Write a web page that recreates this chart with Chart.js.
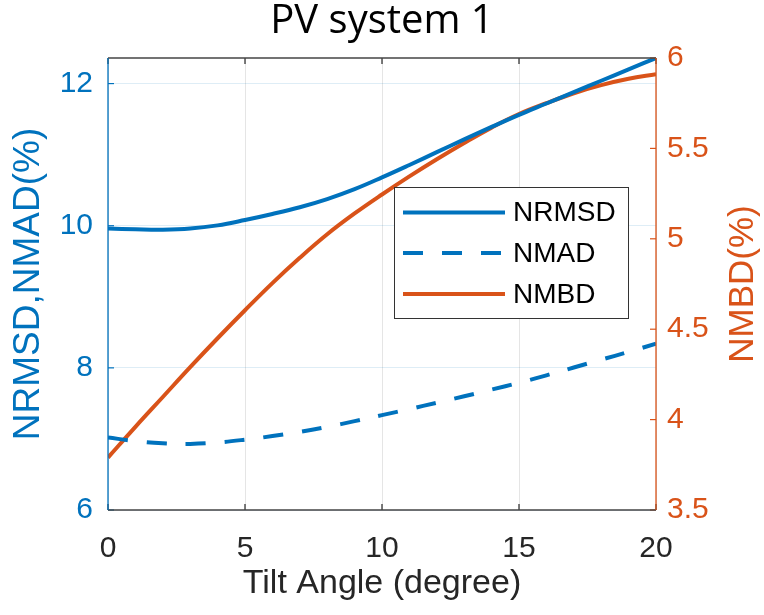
<!DOCTYPE html>
<html><head><meta charset="utf-8">
<script src="https://cdn.jsdelivr.net/npm/chart.js@4.4.0/dist/chart.umd.min.js"></script>
<style>html,body{margin:0;padding:0;background:#fff;overflow:hidden}</style>
</head><body>
<canvas id="c" width="764" height="615" style="width:764px;height:615px;display:block"></canvas>
<script>
const tiltAngles = [0,1,2,3,4,5,6,7,8,9,10,11,12,13,14,15,16,17,18,19,20];
const nrmsd = [9.96,9.95,9.945,9.96,10.005,10.08,10.165,10.26,10.375,10.515,10.68,10.855,11.035,11.215,11.39,11.56,11.72,11.88,12.04,12.20,12.36];
const nmad  = [7.02,6.97,6.94,6.93,6.95,6.99,7.04,7.10,7.17,7.25,7.335,7.42,7.51,7.60,7.695,7.79,7.895,8.005,8.115,8.225,8.34];
const nmbd  = [3.79,3.96,4.125,4.29,4.45,4.605,4.755,4.895,5.025,5.14,5.245,5.345,5.44,5.53,5.615,5.69,5.75,5.805,5.85,5.885,5.91];
const xTicks = [0,5,10,15,20];
const leftTicks = [6,8,10,12];
const rightTicks = [3.5,4,4.5,5,5.5,6];
const seriesNames = ['NRMSD','NMAD','NMBD'];
const titleText = 'PV system 1';
const xLabel = 'Tilt Angle (degree)';
const leftLabel = 'NRMSD,NMAD(%)';
const rightLabel = 'NMBD(%)';

const BLUE = '#0072BD', ORANGE = '#D95319', DARK = '#262626';
const SANS = "'Liberation Sans', Arial, sans-serif";
Chart.defaults.font.family = SANS;

const pts = arr => tiltAngles.map((t,i)=>({x:t,y:arr[i]}));

const framePlugin = {
  id:'frame',
  afterDatasetsDraw(chart){
    const {ctx, chartArea:a, scales} = chart;
    const x = scales.x, y = scales.y, y2 = scales.y2;
    const seg = (x1,y1,x2,y2c,col,w)=>{ctx.beginPath();ctx.strokeStyle=col;ctx.lineWidth=w;ctx.moveTo(x1,y1);ctx.lineTo(x2,y2c);ctx.stroke();};
    ctx.save();
    const TL = 6;
    xTicks.forEach(v=>{const p=x.getPixelForValue(v);seg(p,a.bottom,p,a.bottom-TL,DARK,1.2);seg(p,a.top,p,a.top+TL,DARK,1.2);});
    leftTicks.forEach(v=>{const p=y.getPixelForValue(v);seg(a.left,p,a.left+TL,p,BLUE,1.2);});
    rightTicks.forEach(v=>{const p=y2.getPixelForValue(v);seg(a.right,p,a.right-TL,p,ORANGE,1.2);});
    seg(a.left,a.top,a.right,a.top,'#444',1.3);
    seg(a.left,a.bottom,a.right,a.bottom,'#444',1.3);
    seg(a.left,a.top,a.left,a.bottom,BLUE,1.3);
    seg(a.right,a.top,a.right,a.bottom,ORANGE,1.3);

    // legend
    const bx=394, by=187, bw=234, bh=131;
    ctx.fillStyle='#fff';ctx.fillRect(bx,by,bw,bh);
    ctx.strokeStyle='#333';ctx.lineWidth=1;ctx.strokeRect(bx+0.5,by+0.5,bw,bh);
    const rows=[212.5,253,294];
    chart.data.datasets.forEach((ds,i)=>{
      const ry=rows[i];
      ctx.beginPath();ctx.strokeStyle=ds.borderColor;ctx.lineWidth=4;
      ctx.setLineDash(ds.borderDash||[]);
      ctx.lineDashOffset=0;
      ctx.moveTo(403,ry);ctx.lineTo(505,ry);ctx.stroke();
      ctx.setLineDash([]);
      ctx.fillStyle='#000';ctx.font='28px '+SANS;ctx.textAlign='left';ctx.textBaseline='middle';
      ctx.fillText(ds.label,513,ry+1);
    });

    // right axis title (reads bottom to top)
    ctx.save();
    ctx.translate(743, (a.top+a.bottom)/2);
    ctx.rotate(-Math.PI/2);
    ctx.fillStyle=ORANGE;ctx.font='35px '+SANS;ctx.textAlign='center';ctx.textBaseline='middle';
    ctx.fillText(rightLabel,0,0);
    ctx.restore();
    ctx.restore();
  }
};

new Chart(document.getElementById('c'),{
  type:'line',
  data:{datasets:[
    {label:seriesNames[0],data:pts(nrmsd),yAxisID:'y',borderColor:BLUE,borderWidth:4,pointRadius:0,tension:0.4},
    {label:seriesNames[1],data:pts(nmad),yAxisID:'y',borderColor:BLUE,borderWidth:4,borderDash:[20,19],pointRadius:0,tension:0.4},
    {label:seriesNames[2],data:pts(nmbd),yAxisID:'y2',borderColor:ORANGE,borderWidth:4,pointRadius:0,tension:0.4}
  ]},
  options:{
    responsive:false, animation:false, devicePixelRatio:1,
    layout:{padding:0},
    plugins:{
      legend:{display:false}, tooltip:{enabled:false},
      title:{display:true,text:titleText,color:'#000',font:{family:"'Open Sans', sans-serif",size:40,weight:'normal',lineHeight:1.1},padding:{top:0,bottom:14}}
    },
    scales:{
      x:{type:'linear',min:0,max:20,
        afterBuildTicks:s=>{s.ticks=xTicks.map(v=>({value:v}));},
        afterFit:s=>{s.height=105;},
        grid:{color:'rgba(38,38,38,0.12)',drawTicks:false},border:{display:false},
        ticks:{color:DARK,font:{size:30},padding:21,maxRotation:0},
        title:{display:true,text:xLabel,color:DARK,font:{size:34},padding:{top:0,bottom:11}}
      },
      y:{type:'linear',position:'left',min:6,max:12.36,
        afterBuildTicks:s=>{s.ticks=leftTicks.map(v=>({value:v}));},
        afterFit:s=>{s.width=108;},
        grid:{color:'rgba(0,114,189,0.13)',drawTicks:false},border:{display:false},
        ticks:{color:BLUE,font:{size:30},padding:15},
        title:{display:true,text:leftLabel,color:BLUE,font:{size:37},padding:{top:7,bottom:0}}
      },
      y2:{type:'linear',position:'right',min:3.5,max:6,
        afterBuildTicks:s=>{s.ticks=rightTicks.map(v=>({value:v}));},
        afterFit:s=>{s.width=108;},
        grid:{display:false,drawTicks:false},border:{display:false},
        ticks:{color:ORANGE,font:{size:30},padding:11,callback:v=>String(v)}
      }
    }
  },
  plugins:[framePlugin]
});
</script>
</body></html>
